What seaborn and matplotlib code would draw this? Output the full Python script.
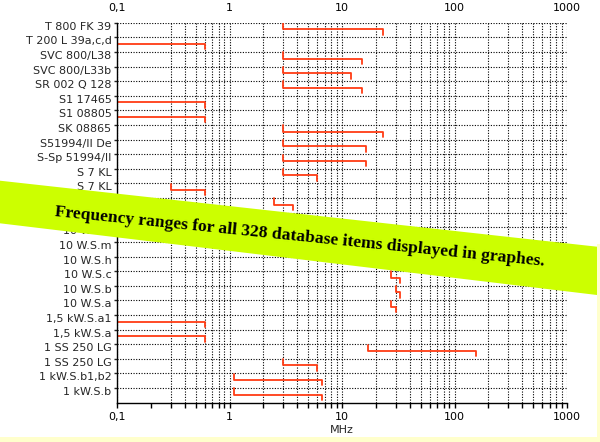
import numpy as np
import pandas as pd
import matplotlib
matplotlib.use("Agg")
import matplotlib.pyplot as plt
from matplotlib.patches import Polygon, Rectangle
from matplotlib.ticker import FixedLocator, FixedFormatter, NullFormatter
import matplotlib.transforms as mtransforms
import seaborn as sns

# database items, top to bottom, with frequency range in MHz
items = ["T 800 FK 39", "T 200 L 39a,c,d", "SVC 800/L38", "SVC 800/L33b",
         "SR 002 Q 128", "S1 17465", "S1 08805", "SK 08865", "S51994/II De",
         "S-Sp 51994/II", "S 7 KL", "S 7 KL", "S 5 KL", "10 W.S.o", "10 W.S.k",
         "10 W.S.m", "10 W.S.h", "10 W.S.c", "10 W.S.b", "10 W.S.a",
         "1,5 kW.S.a1", "1,5 kW.S.a", "1 SS 250 LG", "1 SS 250 LG",
         "1 kW.S.b1,b2", "1 kW.S.b"]
f_low = [3, 0.1, 3, 3, 3, 0.1, 0.1, 3, 3, 3, 3, 0.3, 2.5, np.nan, np.nan,
         27, 27, 27, 30, 27, 0.1, 0.1, 17, 3, 1.1, 1.1]
f_high = [23, 0.6, 15, 12, 15, 0.6, 0.6, 23, 16.5, 16.5, 6, 0.6, 3.7, np.nan, np.nan,
          33, 33, 33, 33, 30, 0.6, 0.6, 155, 6, 6.7, 6.7]

x_ticks = [0.1, 1, 10, 100, 1000]
x_ticklabels = ["0,1", "1", "10", "100", "1000"]
banner = "Frequency ranges for all 328 database items displayed in graphes."

sns.set_style("white")
plt.rcParams['font.family'] = ['DejaVu Sans']

# bracket shape for every item: rise at start, bar, drop at end
rows = []
for i, (name, lo, hi) in enumerate(zip(items, f_low, f_high)):
    if np.isnan(lo):
        continue
    for k, (xv, yv) in enumerate([(lo, i + 0.02), (lo, i + 0.45), (hi, i + 0.45), (hi, i + 0.82)]):
        rows.append({"item": i, "order": k, "MHz": xv, "row": yv})
df = pd.DataFrame(rows)

fig = plt.figure(figsize=(6, 4.42), dpi=100)
ax = fig.add_axes([117 / 600, 1 - 402.7 / 442, 450 / 600, 380 / 442])
ax.set_xscale('log')
ax.set_xlim(0.1, 1000)
ax.set_ylim(len(items), 0)

# dotted grid (no line at 0,2)
grid_x = [m * 10.0 ** e for e in range(-1, 3) for m in range(1, 10)] + [1000]
grid_x = [g for g in grid_x if abs(g - 0.2) > 1e-9]
dots = (0, (1, 1.4))
ax.vlines(grid_x, 0, len(items), colors='black', linestyles=[dots], lw=0.8, zorder=1)
ax.hlines(np.arange(len(items)), 0.1, 1000, colors='black', linestyles=[dots], lw=0.8, zorder=1)

sns.lineplot(data=df, x="MHz", y="row", units="item", estimator=None, sort=False,
             color='#ff3c14', lw=1.3, ax=ax, zorder=3)

for s in ['top', 'right']:
    ax.spines[s].set_visible(False)
for s in ['left', 'bottom']:
    ax.spines[s].set_linewidth(1.0)
    ax.spines[s].set_color('black')
    ax.spines[s].set_zorder(4)

ax.xaxis.set_major_locator(FixedLocator(x_ticks))
ax.xaxis.set_major_formatter(FixedFormatter(x_ticklabels))
minor = [m * 10.0 ** e for e in range(-1, 3) for m in range(2, 10)]
ax.xaxis.set_minor_locator(FixedLocator(minor))
ax.xaxis.set_minor_formatter(NullFormatter())
ax.tick_params(axis='x', which='both', bottom=True, top=False, labeltop=True,
               direction='out', length=3.6, width=1, labelsize=8, pad=3.2, colors='black')

ax.set_yticks(np.arange(len(items)))
ax.set_yticklabels(items)
ax.tick_params(axis='y', left=True, direction='out', length=2, width=1, labelsize=8, pad=2)
off = mtransforms.ScaledTranslation(0, -3 / 100, fig.dpi_scale_trans)
for lab in ax.get_yticklabels():
    lab.set_transform(lab.get_transform() + off)

ax.set_xlabel("MHz", fontsize=8, labelpad=2)
ax.set_ylabel("")

# pale yellow strips along the edge
fig.add_artist(Rectangle((0, 0), 1, 5 / 442, transform=fig.transFigure,
                         fc='#ffffcc', ec='none', zorder=9))
fig.add_artist(Rectangle((597 / 600, 0), 3 / 600, (442 - 244) / 442, transform=fig.transFigure,
                         fc='#ffffcc', ec='none', zorder=9))

# slanted banner
poly = [(0, 1 - 180.7 / 442), (597 / 600, 1 - 246.7 / 442),
        (597 / 600, 1 - 295 / 442), (0, 1 - 223.3 / 442)]
fig.add_artist(Polygon(poly, closed=True, transform=fig.transFigure,
                       fc='#ccff00', ec='none', zorder=10))
fig.text(299 / 600, 1 - 241 / 442, banner, rotation=-5.8, rotation_mode='anchor',
         ha='center', va='baseline', family=['Liberation Serif', 'DejaVu Serif'],
         weight='bold', fontsize=12.6, color='black', zorder=11)

fig.savefig("out.png", dpi=100)
